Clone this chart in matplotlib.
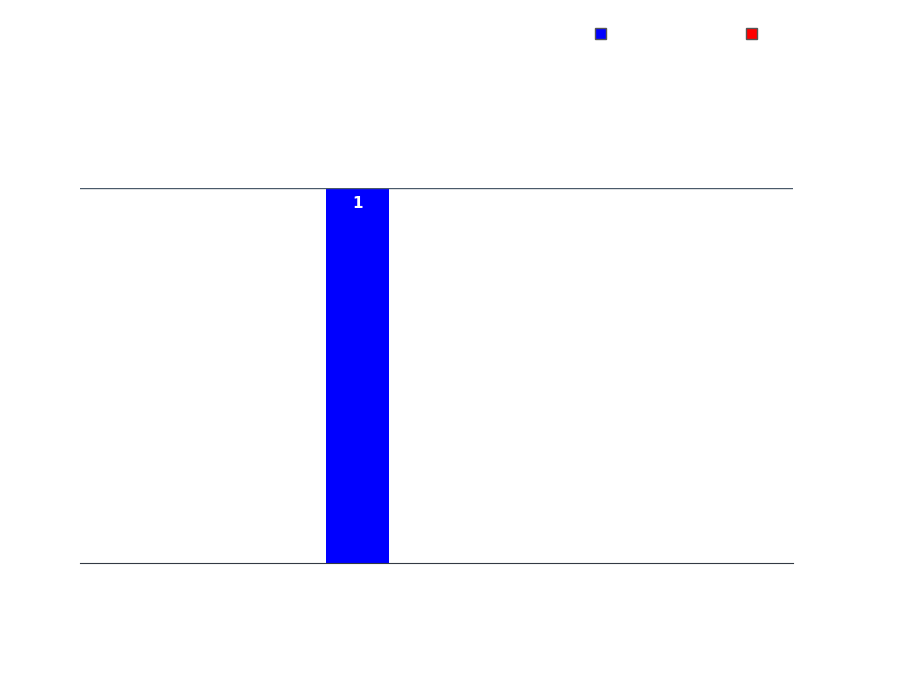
import matplotlib
matplotlib.use("Agg")
import matplotlib.pyplot as plt
from matplotlib.patches import Patch

categories = [""]
blue_values = [1]
red_values = [0]

fig = plt.figure(figsize=(9, 7), dpi=100)
ax = fig.add_axes([80 / 900, 1 - 563 / 700, 713 / 900, 375 / 700])

x = [0]
bars = ax.bar(x, blue_values, width=1.0, color="#0000ff")
ax.bar([1], red_values, width=1.0, color="#ff0000")
for b, v in zip(bars, blue_values):
    ax.text(b.get_x() + b.get_width() / 2, v - 0.02, str(v), ha="center", va="top",
            color="white", fontsize=11, fontweight="bold")

ax.set_xlim(-4.40, 6.92)
ax.set_ylim(0, 1)
ax.axhline(1, color="#4a5a6a", lw=1)
for s in ["top", "left", "right"]:
    ax.spines[s].set_visible(False)
ax.spines["bottom"].set_color("#333a44")
ax.set_xticks([])
ax.set_yticks([])

handles = [Patch(facecolor="#0000ff", edgecolor="#555555"),
           Patch(facecolor="#ff0000", edgecolor="#555555")]
fig.legend(handles, [" ", " "], loc="upper left", bbox_to_anchor=(582 / 900, 1 - 15 / 700),
           ncol=2, frameon=False, handlelength=0.8, handleheight=0.8, columnspacing=9.0)

fig.savefig("out.png")
